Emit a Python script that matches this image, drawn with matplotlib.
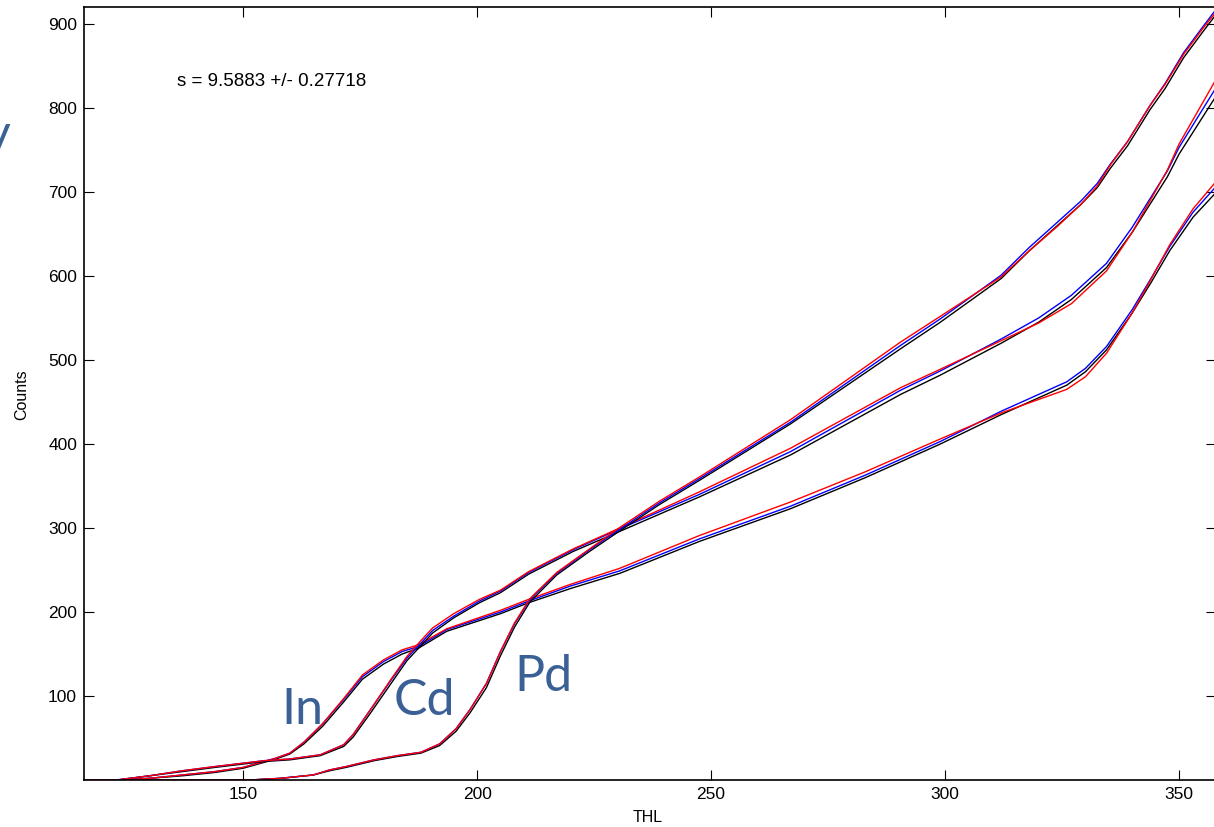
import matplotlib
matplotlib.use("Agg")
import matplotlib.pyplot as plt
import numpy as np

plt.rcParams['font.family'] = ['Liberation Sans', 'DejaVu Sans']

# Threshold scan (THL) vs counts for three foils: measured (black) and two fits (blue, red)
thl_in = [116, 124, 130, 137, 144, 150, 154.5, 157, 160, 163, 167, 171.5, 175.5, 180, 184, 187.5,
          193.5, 205, 211, 220, 230.5, 247.5, 267, 283, 299, 312, 320, 326, 330, 334.5, 340, 344,
          348, 353, 358]
counts_in = [0, 0, 2, 5, 9, 14, 21, 25, 31, 43, 64, 93, 120, 138, 150, 157,
             177, 198, 211, 228, 246, 284, 323, 360, 400, 435, 455, 470, 486, 512, 556, 592,
             630, 670, 700]
dblue_in = [0, 0, 0, 1, 1, 1, 1, 1, 1, 2, 3, 3, 3, 3, 3, 2,
            2, 2, 2, 3, 3, 3, 3, 3, 3, 4, 4, 4, 4, 4, 4, 5,
            5, 6, 7]
dred_in = [0, 0, 0, 1, 1, 1, 1, 1, 1, 2, 3, 4, 5, 5, 5, 4,
           3, 4, 4, 5, 6, 7, 8, 7, 6, 2, -2, -5, -6, -4, 0, 4,
           7, 10, 13]

thl_cd = [116, 123, 130, 137, 144, 150, 154.5, 160, 166.5, 171.5, 173.5, 177, 181.5, 185, 188,
          190.5, 195, 200.5, 205, 211, 220.5, 230.5, 247.5, 267, 290.5, 299, 312, 320, 327, 334.5,
          340, 347.5, 350, 354, 358]
counts_cd = [0, 0, 5, 10, 15, 19, 22, 24, 29, 40, 51, 78, 114, 142, 160,
             175, 193, 211, 223, 245, 272, 296, 337, 387, 459, 482, 520, 545, 572, 610,
             652, 718, 745, 780, 815]
dblue_cd = [0, 0, 0, 1, 1, 1, 1, 1, 1, 2, 3, 4, 4, 3, 3,
            3, 2, 2, 2, 2, 2, 3, 3, 4, 5, 5, 5, 5, 5, 5,
            6, 7, 8, 9, 10]
dred_cd = [0, 0, 0, 1, 1, 1, 1, 1, 1, 2, 3, 4, 5, 5, 6,
           6, 5, 4, 3, 3, 3, 4, 6, 8, 8, 7, 3, -1, -5, -4,
           0, 8, 12, 16, 20]

thl_pd = [116, 151.5, 158, 165, 168.5, 172, 178, 183, 188, 192, 195.5, 198.5, 202, 205, 208,
          211.3, 217, 224, 230.6, 239, 247.6, 267, 290.4, 299, 312, 318, 324, 329, 332.5, 335.3,
          339, 343.8, 347, 351, 355, 358]
counts_pd = [0, 0, 2, 6, 11, 15, 23, 28, 32, 41, 58, 80, 110, 148, 182,
             212, 244, 272, 297, 328, 357, 424, 513, 545, 597, 630, 660, 685, 705, 728,
             755, 798, 823, 860, 890, 912]
dblue_pd = [0, 0, 0, 0, 1, 1, 1, 1, 1, 2, 3, 4, 5, 5, 4,
            3, 2, 2, 2, 2, 2, 2, 4, 4, 4, 4, 4, 4, 5, 5,
            5, 5, 6, 6, 6, 6]
dred_pd = [0, 0, 0, 0, 1, 1, 1, 1, 1, 2, 3, 4, 5, 5, 5,
           4, 3, 3, 4, 4, 4, 5, 8, 7, 2, 0, -1, 0, 2, 4,
           5, 5, 5, 4, 4, 3]

curves = [
    (thl_in, counts_in, dblue_in, dred_in),
    (thl_cd, counts_cd, dblue_cd, dred_cd),
    (thl_pd, counts_pd, dblue_pd, dred_pd),
]

fig = plt.figure(figsize=(12.14, 8.27), dpi=100)
ax = fig.add_axes([84 / 1214, 1 - 780 / 827, (1216 - 84) / 1214, (780 - 7) / 827])

for thl, cnt, db, dr in curves:
    thl = np.array(thl)
    cnt = np.array(cnt, dtype=float)
    ax.plot(thl, cnt, color='black', lw=1.0)
    ax.plot(thl, cnt + np.array(db), color='blue', lw=1.0)
    ax.plot(thl, cnt + np.array(dr), color='red', lw=1.0)

ax.set_xlim(116, 357.9)
ax.set_ylim(0, 920.2)
ax.set_xticks([150, 200, 250, 300, 350])
ax.set_yticks([100, 200, 300, 400, 500, 600, 700, 800, 900])
ax.tick_params(direction='in', length=7, width=0.8, top=True, right=True,
               labelsize=12.5, pad=5)
for s in ax.spines.values():
    s.set_linewidth(1.2)

ax.text(135.9, 831, 's = 9.5883 +/- 0.27718', fontsize=13.5, ha='left', va='center')

fig.text(22 / 1214, 1 - 395 / 827, 'Counts', rotation=90, fontsize=11.5,
         ha='center', va='center')
fig.text(648 / 1214, 1 - 818 / 827, 'THL', fontsize=11.5, ha='center', va='center')

# element labels
lab_color = '#3A6096'
ax.text(162.6, 66.7, 'In', fontsize=36, family='Lato', color=lab_color, ha='center', va='baseline')
ax.text(188.7, 77, 'Cd', fontsize=36, family='Lato', color=lab_color, ha='center', va='baseline')
ax.text(214.1, 106, 'Pd', fontsize=36, family='Lato', color=lab_color, ha='center', va='baseline')
# tail of a slide caption running in from the left edge
fig.text(10 / 1214, 1 - 150 / 827, 'y', fontsize=36, family='Lato', color=lab_color,
         ha='right', va='baseline')

fig.savefig('out.png', dpi=100)
